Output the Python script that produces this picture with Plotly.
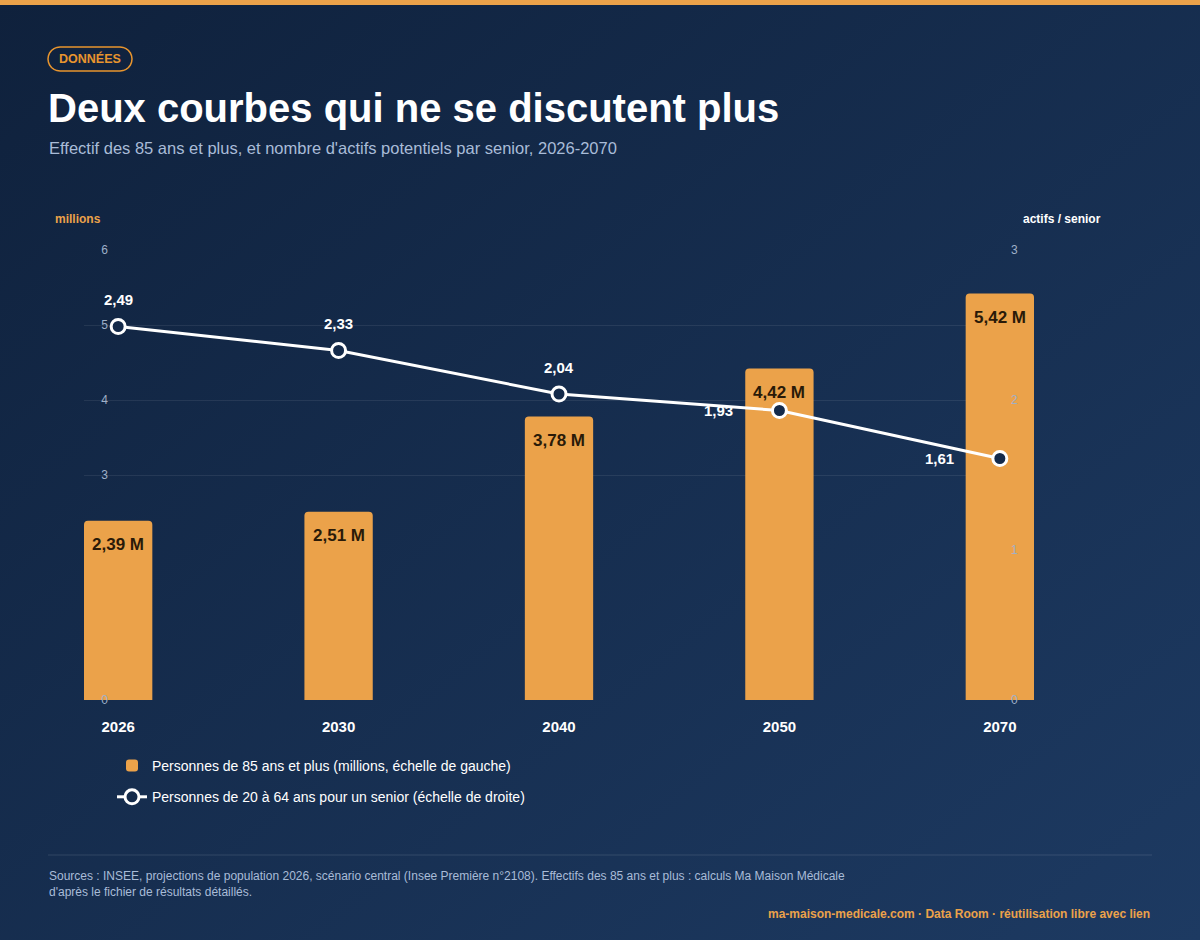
import plotly.graph_objects as go

years = ["2026", "2030", "2040", "2050", "2070"]
seniors_m = [2.39, 2.51, 3.78, 4.42, 5.42]
actifs_per_senior = [2.49, 2.33, 2.04, 1.93, 1.61]
bar_labels = ["2,39 M", "2,51 M", "3,78 M", "4,42 M", "5,42 M"]
line_labels = ["2,49", "2,33", "2,04", "1,93", "1,61"]
line_pos = ["top", "top", "top", "left", "left"]

W, H = 1200, 940
def px(x): return x / W
def py(y): return 1 - y / H

FONT = "Liberation Sans, Arial, sans-serif"
ORANGE = "#eba24a"

bg_svg = ("data:image/svg+xml;utf8,<svg xmlns='http://www.w3.org/2000/svg' width='1200' height='940'>"
          "<defs><linearGradient id='g' x1='0' y1='0' x2='1' y2='1'>"
          "<stop offset='0' stop-color='%230f213c'/><stop offset='1' stop-color='%231d3a62'/>"
          "</linearGradient></defs><rect width='1200' height='940' fill='url(%23g)'/></svg>")

fig = go.Figure()
fig.add_trace(go.Bar(
    x=years, y=seniors_m, width=0.31, name="Personnes de 85 ans et plus (millions, échelle de gauche)",
    marker=dict(color=ORANGE, cornerradius=4, line=dict(width=0)),
    hoverinfo="skip", legendgroup="a",
))
fig.add_trace(go.Scatter(
    x=years, y=actifs_per_senior, yaxis="y2", mode="lines+markers",
    name="Personnes de 20 à 64 ans pour un senior (échelle de droite)",
    line=dict(color="white", width=3),
    marker=dict(size=14, color="#142a4a", line=dict(color="white", width=3)),
    cliponaxis=False, legendgroup="b",
))

annotations = [
    dict(x=i, y=v, xref="x", yref="y", text=f"<b>{t}</b>", showarrow=False, yshift=-24,
         xanchor="center", yanchor="middle", font=dict(size=17, color="#2a1a08", family=FONT))
    for i, (v, t) in enumerate(zip(seniors_m, bar_labels))
]
for i, (v, t, p) in enumerate(zip(actifs_per_senior, line_labels, line_pos)):
    if p == "top":
        annotations.append(dict(x=i, y=v, xref="x", yref="y2", text=f"<b>{t}</b>", showarrow=False,
                                yshift=27, xanchor="center", yanchor="middle",
                                font=dict(size=15, color="white", family=FONT)))
    else:
        annotations.append(dict(x=i, y=v, xref="x", yref="y2", text=f"<b>{t}</b>", showarrow=False,
                                xshift=-44, xanchor="right", yanchor="middle",
                                font=dict(size=15, color="white", family=FONT)))

annotations += [
    dict(text="<b>DONNÉES</b>", x=px(90), y=py(59), xref="paper", yref="paper", showarrow=False,
         xanchor="center", yanchor="middle",
         font=dict(size=12.5, color="#e8952e", family=FONT)),
    dict(text="<b>Deux courbes qui ne se discutent plus</b>", x=px(46), y=py(108), xref="paper",
         yref="paper", xanchor="left", yanchor="middle", showarrow=False,
         font=dict(size=40, color="white", family=FONT)),
    dict(text="Effectif des 85 ans et plus, et nombre d'actifs potentiels par senior, 2026-2070",
         x=px(47), y=py(148), xref="paper", yref="paper", xanchor="left", yanchor="middle", showarrow=False,
         font=dict(size=16.5, color="#a9bcd8", family=FONT)),
    dict(text="<b>millions</b>", x=px(53), y=py(219), xref="paper", yref="paper", xanchor="left",
         yanchor="middle", showarrow=False, font=dict(size=12, color="#eba24a", family=FONT)),
    dict(text="<b>actifs / senior</b>", x=px(1103), y=py(219), xref="paper", yref="paper",
         xanchor="right", yanchor="middle", showarrow=False, font=dict(size=12, color="white", family=FONT)),
    dict(text="Sources : INSEE, projections de population 2026, scénario central (Insee Première n°2108). Effectifs des 85 ans et plus : calculs Ma Maison Médicale<br>d'après le fichier de résultats détaillés.",
         x=px(47), y=py(884), xref="paper", yref="paper", xanchor="left", yanchor="middle", align="left",
         showarrow=False, font=dict(size=12, color="#a9bcd8", family=FONT)),
    dict(text="<b>ma-maison-medicale.com · Data Room · réutilisation libre avec lien</b>",
         x=px(1152), y=py(914), xref="paper", yref="paper", xanchor="right", yanchor="middle", showarrow=False,
         font=dict(size=12, color="#eba24a", family=FONT)),
]

def badge_path(x0, y0, x1, y1, r):
    import math
    cx_l, cx_r, cy = x0 + r, x1 - r, (y0 + y1) / 2
    path = f"M {px(cx_l)} {py(y0)} L {px(cx_r)} {py(y0)} "
    for i in range(1, 13):
        a = -math.pi / 2 + math.pi * i / 12
        path += f"L {px(cx_r + r*math.cos(a))} {py(cy + r*math.sin(a))} "
    path += f"L {px(cx_l)} {py(y1)} "
    for i in range(1, 13):
        a = math.pi / 2 + math.pi * i / 12
        path += f"L {px(cx_l + r*math.cos(a))} {py(cy + r*math.sin(a))} "
    return path + "Z"

fig.update_layout(
    width=W, height=H, margin=dict(l=0, r=0, t=0, b=0, autoexpand=False),
    paper_bgcolor="#132744", plot_bgcolor="rgba(0,0,0,0)",
    font=dict(family=FONT, color="white"),
    images=[dict(source=bg_svg, xref="paper", yref="paper", x=0, y=1, sizex=1, sizey=1,
                 xanchor="left", yanchor="top", layer="below", sizing="stretch")],
    xaxis=dict(domain=[px(84), px(1034)], range=[-0.155, 4.155], type="category",
               showgrid=False, zeroline=False, showline=False, ticks="", automargin=False,
               tickfont=dict(size=15, color="white", family=FONT, weight="bold"),
               ticklabelstandoff=16),
    yaxis=dict(domain=[py(700), py(250)], range=[0, 6], tickvals=[0, 3, 4, 5, 6],
               anchor="free", position=px(108), side="left", automargin=False,
               showgrid=True, gridcolor="rgba(255,255,255,0.08)", zeroline=False,
               tickfont=dict(size=12, color="#9fb0c8"), ticks=""),
    yaxis2=dict(overlaying="y", side="right", range=[0, 3], tickvals=[0, 1, 2, 3],
                anchor="free", position=px(1010), automargin=False,
                showgrid=False, zeroline=False, ticks="",
                tickfont=dict(size=12, color="#9fb0c8")),
    showlegend=True,
    legend=dict(x=px(112), y=py(750), xanchor="left", yanchor="top", bgcolor="rgba(0,0,0,0)",
                font=dict(size=14, color="white", family=FONT), tracegroupgap=10),
    shapes=[
        dict(type="rect", xref="paper", yref="paper", x0=0, x1=1, y0=py(5), y1=1,
             fillcolor="#eba24a", line=dict(width=0)),
        dict(type="path", xref="paper", yref="paper", path=badge_path(48, 47, 132, 71, 12),
             line=dict(color="#e8952e", width=1.5), fillcolor="rgba(0,0,0,0)"),
        dict(type="line", xref="paper", yref="paper", x0=px(48), x1=px(1152), y0=py(855), y1=py(855),
             line=dict(color="rgba(255,255,255,0.12)", width=1)),
    ],
    annotations=annotations,
)
fig.write_html("out.html", config={"displayModeBar": False},
               post_script="document.body.style.margin='0';document.body.style.background='#0f213c';")
